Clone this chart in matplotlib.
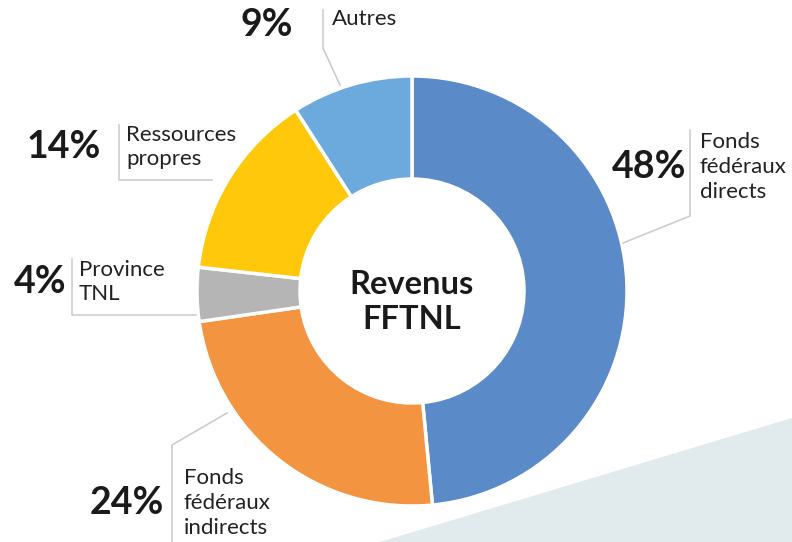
import matplotlib.pyplot as plt
from matplotlib.patches import Polygon

# Données du graphique
categories = ["Fonds\nfédéraux\ndirects", "Fonds\nfédéraux\nindirects", "Province\nTNL",
              "Ressources\npropres", "Autres"]
valeurs = [48, 24, 4, 14, 9]
etiquettes = ["48%", "24%", "4%", "14%", "9%"]
couleurs = ["#5B8AC8", "#F39440", "#B5B5B5", "#FFC80B", "#6CAADD"]

W, H = 792, 542


def Y(y):
    # coordonnées image -> coordonnées axes
    return H - y


fig = plt.figure(figsize=(W / 100, H / 100), dpi=100)
ax = fig.add_axes([0, 0, 1, 1])
ax.set_xlim(0, W)
ax.set_ylim(0, H)
ax.set_aspect("equal")
ax.axis("off")

# Fond gris clair en bas à droite
ax.add_patch(Polygon([(380, Y(542)), (792, Y(418)), (792, Y(542))],
                     closed=True, facecolor="#E1EAEC", edgecolor="none", zorder=0))

ax.pie(valeurs, colors=couleurs, startangle=90, counterclock=False,
       center=(412, Y(291)), radius=215,
       wedgeprops=dict(width=103, edgecolor="white", linewidth=2.5))
ax.set_xlim(0, W)
ax.set_ylim(0, H)

gris = "#C9C9C9"
texte = "#1A1A1A"
police = "Lato"

# Lignes de rappel
lignes = [
    [(623, 243), (690, 216), (690, 130)],
    [(227, 413), (172, 445), (172, 542)],
    [(72, 259), (72, 315), (196, 315)],
    [(119, 125), (119, 180), (212, 180)],
    [(340, 85), (323, 48), (323, 10)],
]
for pts in lignes:
    ax.plot([p[0] for p in pts], [Y(p[1]) for p in pts], color=gris, lw=1.1, zorder=3)

# positions (x pourcentage, x texte, y centre)
pos = [(686, 700, 167), (164, 184, 503), (66, 79, 282), (101, 126, 147), (293, 332, 25)]
for (xp, xt, yc), lab in zip(pos, etiquettes):
    ax.text(xp, Y(yc), lab, ha="right", va="center", fontsize=27, fontweight="bold",
            family=police, color=texte)
for (xp, xt, yc), cat, dy in zip(pos, categories, [0, 0, 0, 0, -6]):
    ax.text(xt, Y(yc + dy), cat, ha="left", va="center", fontsize=16,
            family=police, color="#222222", linespacing=1.29)

ax.text(412, Y(302), "Revenus\nFFTNL", ha="center", va="center", fontsize=23.5,
        fontweight="bold", family=police, color=texte, linespacing=1.25)

fig.savefig("out.png", dpi=100)
